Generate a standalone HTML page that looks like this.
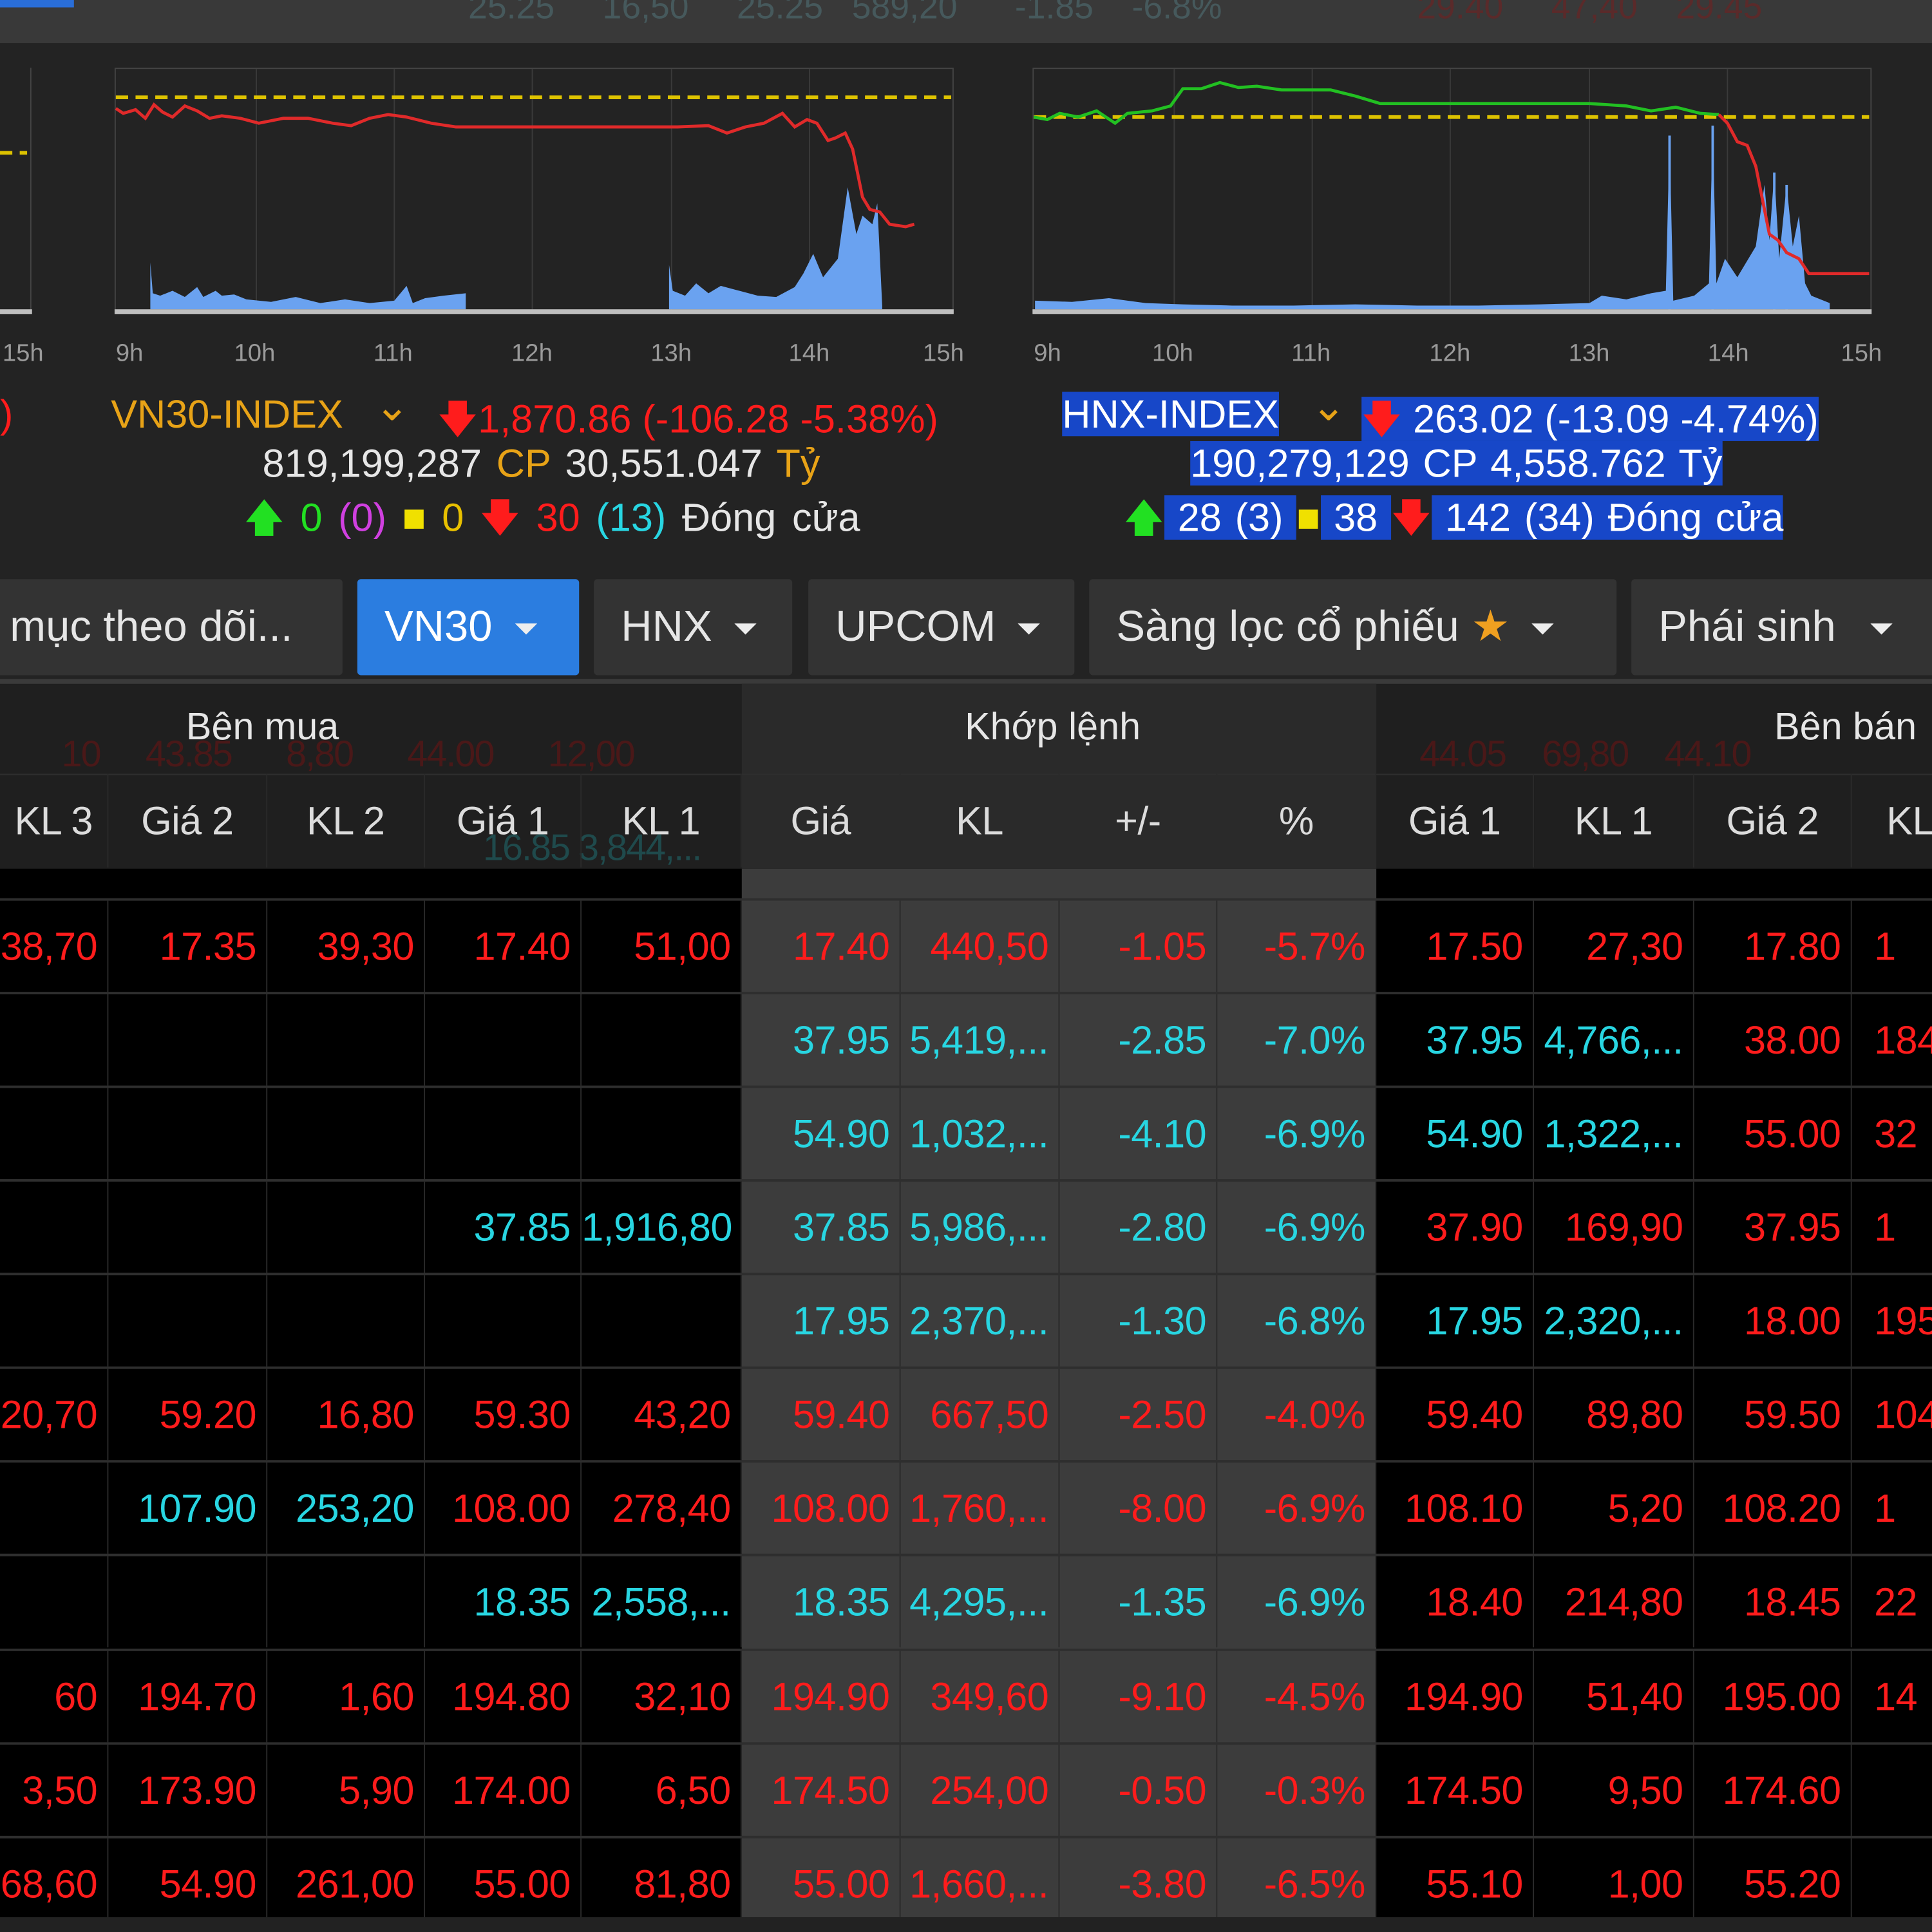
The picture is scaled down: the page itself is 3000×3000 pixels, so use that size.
<!DOCTYPE html>
<html><head><meta charset="utf-8">
<style>
html,body{margin:0;padding:0;background:#222;overflow:hidden;width:3000px;height:3000px}
#s{position:absolute;left:0;top:0;width:1568px;height:1568px;transform:scale(1.91327);transform-origin:0 0;background:#232323;font-family:"Liberation Sans",sans-serif;overflow:hidden}
.a{position:absolute;white-space:nowrap}
.t{font-size:32px;letter-spacing:0px}
.r{color:#ff1c1c}.c{color:#28d6e2}.w{color:#e6e6e6}.o{color:#e8a317}.g{color:#22e022}.m{color:#d040e0}.y{color:#f0e000}
.hl{background:#1747c8;color:#fff}
.row{position:absolute;left:0;height:76px;display:flex;font-size:32px;letter-spacing:-0.3px;border-top:2px solid #2e2e2e;box-sizing:border-box}
.row div{text-align:right;padding-right:8px;box-sizing:border-box;line-height:74px;border-right:1px solid #2a2a2a;overflow:hidden;white-space:nowrap}
.hd div{text-align:center;color:#dcdcdc;line-height:76px;padding-right:0}
.tab{position:absolute;top:470px;height:78px;background:#333;color:#e6e6e6;font-size:35px;line-height:78px;border-radius:3px;box-sizing:border-box;padding-left:22px}
.tri{display:inline-block;width:0;height:0;border-left:9px solid transparent;border-right:9px solid transparent;border-top:9px solid #eee;vertical-align:middle;margin-left:18px}
.hr{position:absolute;font-size:20px;color:#9a9a9a;top:276px}
</style></head><body><div id="s">
<!-- top strip -->
<div class="a" style="left:0;top:0;width:1568px;height:35px;background:#393939"></div>
<div class="a" style="left:0;top:0;width:60px;height:6px;background:#2a6ed8"></div>
<div class="a" style="left:380px;top:-10px;font-size:28px;color:#46595c">25.25 &nbsp;&nbsp;&nbsp;&nbsp;16,50 &nbsp;&nbsp;&nbsp;&nbsp;25.25 &nbsp;&nbsp;589,20 &nbsp;&nbsp;&nbsp;&nbsp;&nbsp;-1.85 &nbsp;&nbsp;&nbsp;-6.8%</div>
<div class="a" style="left:1150px;top:-10px;font-size:28px;color:#5a2a2a">29.40 &nbsp;&nbsp;&nbsp;&nbsp;47,40 &nbsp;&nbsp;&nbsp;29.45</div>

<!-- charts -->
<svg class="a" style="left:0;top:0" width="1568" height="300">
<g stroke="#3a3a3a" stroke-width="1" fill="none">
<rect x="93.5" y="55.5" width="680" height="198" stroke="#444"/>
<rect x="838.5" y="55.5" width="680" height="198" stroke="#444"/>
<line x1="25" y1="55" x2="25" y2="254" stroke="#444"/>
<line x1="208" y1="56" x2="208" y2="253"/><line x1="320" y1="56" x2="320" y2="253"/><line x1="432" y1="56" x2="432" y2="253"/><line x1="545" y1="56" x2="545" y2="253"/><line x1="657" y1="56" x2="657" y2="253"/>
<line x1="953" y1="56" x2="953" y2="253"/><line x1="1065" y1="56" x2="1065" y2="253"/><line x1="1177" y1="56" x2="1177" y2="253"/><line x1="1290" y1="56" x2="1290" y2="253"/><line x1="1402" y1="56" x2="1402" y2="253"/>
</g>
<g fill="#6aa2f0">
<path d="M122,251 L122,213 L124,238 L130,240 L140,236 L150,241 L160,233 L165,241 L175,236 L180,240 L190,239 L200,243 L220,245 L240,241 L260,246 L280,243 L300,246 L320,244 L330,232 L335,246 L345,242 L360,240 L378,238 L378,251 Z"/>
<path d="M543,251 L543,215 L546,236 L556,240 L565,230 L575,238 L585,232 L600,236 L615,240 L630,241 L645,233 L652,222 L660,206 L668,225 L680,210 L688,152 L695,190 L700,175 L708,182 L712,165 L716,248 L716,251 Z"/>
<path d="M840,251 L840,244 L870,245 L900,242 L930,246 L960,247 L1000,248 L1050,248 L1100,247 L1150,248 L1200,248 L1250,247 L1290,246 L1300,240 L1320,243 L1340,238 L1352,236 L1355,110 L1358,244 L1375,240 L1387,230 L1390,102 L1393,230 L1400,210 L1410,225 L1425,200 L1432,150 L1436,195 L1440,140 L1444,210 L1450,150 L1455,200 L1460,175 L1465,230 L1470,240 L1485,246 L1485,251 Z"/>
</g>
<g stroke="#6aa2f0" stroke-width="2"><line x1="1355" y1="251" x2="1355" y2="110"/><line x1="1390" y1="251" x2="1390" y2="102"/><line x1="1440" y1="251" x2="1440" y2="140"/><line x1="1450" y1="251" x2="1450" y2="150"/></g>
<g stroke="#ddc200" stroke-width="3" stroke-dasharray="10,6">
<line x1="94" y1="79" x2="772" y2="79"/><line x1="839" y1="95" x2="1517" y2="95"/><line x1="0" y1="124" x2="22" y2="124"/>
</g>
<polyline fill="none" stroke="#e02a2a" stroke-width="2.5" points="94,88 100,92 110,89 118,96 125,85 132,91 140,95 150,86 160,90 170,96 180,94 195,96 210,100 230,96 250,96 270,100 285,102 300,96 315,93 330,95 350,100 370,103 400,103 450,103 500,103 550,103 575,102 590,108 605,103 620,100 635,92 645,103 655,97 663,100 672,114 678,112 686,108 692,121 700,160 706,170 714,172 722,182 735,184 742,182"/>
<polyline fill="none" stroke="#22c022" stroke-width="2.5" points="839,95 850,97 860,92 875,95 890,90 905,100 915,92 935,90 950,86 960,72 975,72 990,67 1005,71 1020,70 1040,73 1060,73 1080,73 1100,78 1120,84 1160,84 1200,84 1250,84 1290,84 1320,86 1340,90 1360,87 1380,92 1395,93"/>
<polyline fill="none" stroke="#e02a2a" stroke-width="2.5" points="1395,93 1402,100 1410,115 1418,118 1425,135 1430,160 1436,190 1443,195 1450,205 1460,210 1468,222 1480,222 1517,222"/>
<g fill="#bfbfbf"><rect x="0" y="251" width="26" height="4"/><rect x="93" y="251" width="681" height="4"/><rect x="838" y="251" width="681" height="4"/></g>
</svg>
<div class="hr" style="left:2px">15h</div>
<div class="hr" style="left:94px">9h</div><div class="hr" style="left:190px">10h</div><div class="hr" style="left:303px">11h</div><div class="hr" style="left:415px">12h</div><div class="hr" style="left:528px">13h</div><div class="hr" style="left:640px">14h</div><div class="hr" style="left:749px">15h</div>
<div class="hr" style="left:839px">9h</div><div class="hr" style="left:935px">10h</div><div class="hr" style="left:1048px">11h</div><div class="hr" style="left:1160px">12h</div><div class="hr" style="left:1273px">13h</div><div class="hr" style="left:1386px">14h</div><div class="hr" style="left:1494px">15h</div>

<!-- index text -->
<div class="a t r" style="left:0;top:318px">)</div>
<div class="a t o" style="left:90px;top:318px">VN30-INDEX</div>
<div class="a t o" style="left:304px;top:310px;font-size:34px">&#8964;</div>
<div class="a t r" style="left:355px;top:318px">&#129095;1,870.86 (-106.28 -5.38%)</div>
<div class="a t" style="left:213px;top:358px;word-spacing:3px"><span class="w">819,199,287</span> <span class="o">CP</span> <span class="w">30,551.047</span> <span class="o">Tỷ</span></div>
<div class="a t" style="left:198px;top:398px;word-spacing:4px"><span class="g">&#129093;</span> <span class="g">0</span> <span class="m">(0)</span> <span class="y">&#9632;</span> <span class="o" style="color:#e8c000">0</span> <span class="r">&#129095;</span> <span class="r">30</span> <span class="c">(13)</span> <span class="w">Đóng cửa</span></div>
<div class="a t" style="left:862px;top:318px"><span class="hl">HNX-INDEX</span></div>
<div class="a t o" style="left:1064px;top:310px;font-size:34px">&#8964;</div>
<div class="a t" style="left:1105px;top:318px"><span class="hl"> <span class="r">&#129095;</span> 263.02 (-13.09 -4.74%) </span></div>
<div class="a t" style="left:966px;top:358px;word-spacing:2px"><span class="hl">190,279,129 CP 4,558.762 Tỷ</span></div>
<div class="a t" style="left:912px;top:398px;word-spacing:2px"><span class="g">&#129093;</span><span class="hl"> 28 (3) </span> <span class="y">&#9632;</span><span class="hl"> 38 </span><span class="r">&#129095;</span><span class="hl"> 142 (34) Đóng cửa </span></div>

<!-- tabs -->
<div class="tab" style="left:-10px;width:288px;padding-left:18px">mục theo dõi...</div>
<div class="tab" style="left:290px;width:180px;background:#2b7de0;color:#fff">VN30<span class="tri"></span></div>
<div class="tab" style="left:482px;width:161px">HNX<span class="tri"></span></div>
<div class="tab" style="left:656px;width:216px">UPCOM<span class="tri"></span></div>
<div class="tab" style="left:884px;width:428px">Sàng lọc cổ phiếu <span style="color:#f0a020">&#9733;</span><span class="tri"></span></div>
<div class="tab" style="left:1324px;width:260px">Phái sinh<span class="tri" style="margin-left:28px"></span></div>
<div class="a" style="left:0;top:551px;width:1568px;height:4px;background:#3a3a3a"></div>

<!-- header -->
<div class="a" style="left:0;top:555px;width:1568px;height:150px;background:#1f1f1f"></div>
<div class="a" style="left:602px;top:555px;width:515px;height:150px;background:#2a2a2a"></div>
<div class="a" style="left:0;top:628px;width:1568px;height:1px;background:#2e2e2e"></div>
<div class="a w" style="left:151px;top:572px;font-size:31px">Bên mua</div>
<div class="a w" style="left:783px;top:572px;font-size:31px">Khớp lệnh</div>
<div class="a w" style="left:1440px;top:572px;font-size:31px">Bên bán</div>
<div class="a" style="left:50px;top:596px;font-size:30px;color:#4a1818;letter-spacing:-1px">10 &nbsp;&nbsp;&nbsp;&nbsp;43.85 &nbsp;&nbsp;&nbsp;&nbsp;&nbsp;8,80 &nbsp;&nbsp;&nbsp;&nbsp;&nbsp;44.00 &nbsp;&nbsp;&nbsp;&nbsp;&nbsp;12,00</div>
<div class="a" style="left:1152px;top:596px;font-size:30px;color:#4a1818;letter-spacing:-1px">44.05 &nbsp;&nbsp;&nbsp;69,80 &nbsp;&nbsp;&nbsp;44.10</div>
<div class="a" style="left:392px;top:672px;font-size:30px;color:#1f4a4c;letter-spacing:-1px">16.85 3,844,...</div>
<div class="row hd" style="top:628px;border-top:none;font-size:32px">
<div style="width:88px">KL 3</div><div style="width:129px">Giá 2</div><div style="width:128px">KL 2</div><div style="width:127px">Giá 1</div><div style="width:130px">KL 1</div><div style="width:129px">Giá</div><div style="width:129px">KL</div><div style="width:128px">+/-</div><div style="width:129px">%</div><div style="width:128px">Giá 1</div><div style="width:130px">KL 1</div><div style="width:128px">Giá 2</div><div style="width:80px;text-align:left;padding-left:28px">KL</div>
</div>

<!-- data -->
<div class="a" style="left:0;top:705px;width:1568px;height:863px;background:#000"></div>
<div class="a" style="left:602px;top:705px;width:515px;height:863px;background:#3c3c3c"></div>
<div class="row" style="top:729px"><div class="r" style="width:88px">38,70</div><div class="r" style="width:129px">17.35</div><div class="r" style="width:128px">39,30</div><div class="r" style="width:127px">17.40</div><div class="r" style="width:130px">51,00</div><div class="r" style="width:129px">17.40</div><div class="r" style="width:129px">440,50</div><div class="r" style="width:128px">-1.05</div><div class="r" style="width:129px">-5.7%</div><div class="r" style="width:128px">17.50</div><div class="r" style="width:130px">27,30</div><div class="r" style="width:128px">17.80</div><div class="r" style="width:80px;text-align:left;padding-left:18px">1</div></div>
<div class="row" style="top:805px"><div style="width:88px"></div><div style="width:129px"></div><div style="width:128px"></div><div style="width:127px"></div><div style="width:130px"></div><div class="c" style="width:129px">37.95</div><div class="c" style="width:129px">5,419,...</div><div class="c" style="width:128px">-2.85</div><div class="c" style="width:129px">-7.0%</div><div class="c" style="width:128px">37.95</div><div class="c" style="width:130px">4,766,...</div><div class="r" style="width:128px">38.00</div><div class="r" style="width:80px;text-align:left;padding-left:18px">184</div></div>
<div class="row" style="top:881px"><div style="width:88px"></div><div style="width:129px"></div><div style="width:128px"></div><div style="width:127px"></div><div style="width:130px"></div><div class="c" style="width:129px">54.90</div><div class="c" style="width:129px">1,032,...</div><div class="c" style="width:128px">-4.10</div><div class="c" style="width:129px">-6.9%</div><div class="c" style="width:128px">54.90</div><div class="c" style="width:130px">1,322,...</div><div class="r" style="width:128px">55.00</div><div class="r" style="width:80px;text-align:left;padding-left:18px">32</div></div>
<div class="row" style="top:957px"><div style="width:88px"></div><div style="width:129px"></div><div style="width:128px"></div><div class="c" style="width:127px">37.85</div><div class="c" style="width:130px">1,916,80</div><div class="c" style="width:129px">37.85</div><div class="c" style="width:129px">5,986,...</div><div class="c" style="width:128px">-2.80</div><div class="c" style="width:129px">-6.9%</div><div class="r" style="width:128px">37.90</div><div class="r" style="width:130px">169,90</div><div class="r" style="width:128px">37.95</div><div class="r" style="width:80px;text-align:left;padding-left:18px">1</div></div>
<div class="row" style="top:1033px"><div style="width:88px"></div><div style="width:129px"></div><div style="width:128px"></div><div style="width:127px"></div><div style="width:130px"></div><div class="c" style="width:129px">17.95</div><div class="c" style="width:129px">2,370,...</div><div class="c" style="width:128px">-1.30</div><div class="c" style="width:129px">-6.8%</div><div class="c" style="width:128px">17.95</div><div class="c" style="width:130px">2,320,...</div><div class="r" style="width:128px">18.00</div><div class="r" style="width:80px;text-align:left;padding-left:18px">195</div></div>
<div class="row" style="top:1109px"><div class="r" style="width:88px">20,70</div><div class="r" style="width:129px">59.20</div><div class="r" style="width:128px">16,80</div><div class="r" style="width:127px">59.30</div><div class="r" style="width:130px">43,20</div><div class="r" style="width:129px">59.40</div><div class="r" style="width:129px">667,50</div><div class="r" style="width:128px">-2.50</div><div class="r" style="width:129px">-4.0%</div><div class="r" style="width:128px">59.40</div><div class="r" style="width:130px">89,80</div><div class="r" style="width:128px">59.50</div><div class="r" style="width:80px;text-align:left;padding-left:18px">104</div></div>
<div class="row" style="top:1185px"><div style="width:88px"></div><div class="c" style="width:129px">107.90</div><div class="c" style="width:128px">253,20</div><div class="r" style="width:127px">108.00</div><div class="r" style="width:130px">278,40</div><div class="r" style="width:129px">108.00</div><div class="r" style="width:129px">1,760,...</div><div class="r" style="width:128px">-8.00</div><div class="r" style="width:129px">-6.9%</div><div class="r" style="width:128px">108.10</div><div class="r" style="width:130px">5,20</div><div class="r" style="width:128px">108.20</div><div class="r" style="width:80px;text-align:left;padding-left:18px">1</div></div>
<div class="row" style="top:1261px"><div style="width:88px"></div><div style="width:129px"></div><div style="width:128px"></div><div class="c" style="width:127px">18.35</div><div class="c" style="width:130px">2,558,...</div><div class="c" style="width:129px">18.35</div><div class="c" style="width:129px">4,295,...</div><div class="c" style="width:128px">-1.35</div><div class="c" style="width:129px">-6.9%</div><div class="r" style="width:128px">18.40</div><div class="r" style="width:130px">214,80</div><div class="r" style="width:128px">18.45</div><div class="r" style="width:80px;text-align:left;padding-left:18px">22</div></div>
<div class="row" style="top:1338px"><div class="r" style="width:88px">60</div><div class="r" style="width:129px">194.70</div><div class="r" style="width:128px">1,60</div><div class="r" style="width:127px">194.80</div><div class="r" style="width:130px">32,10</div><div class="r" style="width:129px">194.90</div><div class="r" style="width:129px">349,60</div><div class="r" style="width:128px">-9.10</div><div class="r" style="width:129px">-4.5%</div><div class="r" style="width:128px">194.90</div><div class="r" style="width:130px">51,40</div><div class="r" style="width:128px">195.00</div><div class="r" style="width:80px;text-align:left;padding-left:18px">14</div></div>
<div class="row" style="top:1414px"><div class="r" style="width:88px">3,50</div><div class="r" style="width:129px">173.90</div><div class="r" style="width:128px">5,90</div><div class="r" style="width:127px">174.00</div><div class="r" style="width:130px">6,50</div><div class="r" style="width:129px">174.50</div><div class="r" style="width:129px">254,00</div><div class="r" style="width:128px">-0.50</div><div class="r" style="width:129px">-0.3%</div><div class="r" style="width:128px">174.50</div><div class="r" style="width:130px">9,50</div><div class="r" style="width:128px">174.60</div><div class="r" style="width:80px"></div></div>
<div class="row" style="top:1490px"><div class="r" style="width:88px">68,60</div><div class="r" style="width:129px">54.90</div><div class="r" style="width:128px">261,00</div><div class="r" style="width:127px">55.00</div><div class="r" style="width:130px">81,80</div><div class="r" style="width:129px">55.00</div><div class="r" style="width:129px">1,660,...</div><div class="r" style="width:128px">-3.80</div><div class="r" style="width:129px">-6.5%</div><div class="r" style="width:128px">55.10</div><div class="r" style="width:130px">1,00</div><div class="r" style="width:128px">55.20</div><div class="r" style="width:80px"></div></div>
<div class="a" style="left:0;top:1556px;width:1568px;height:12px;background:#222"></div>
</div></body></html>
